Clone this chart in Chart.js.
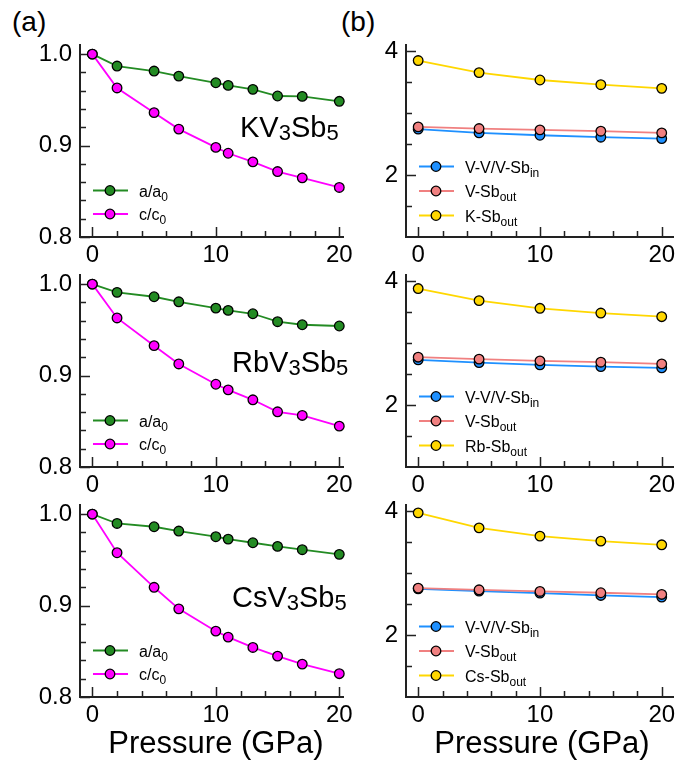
<!DOCTYPE html>
<html>
<head>
<meta charset="utf-8">
<script src="https://cdn.jsdelivr.net/npm/chart.js@4.4.0/dist/chart.umd.min.js"></script>
<style>
  body { margin: 0; background: #fff; }
  #fig { position: relative; width: 680px; height: 769px; background: #fff; font-family: "Liberation Sans", Arial, sans-serif; }
  #fig canvas { position: absolute; }
  .txt { position: absolute; line-height: 1; color: #000; white-space: nowrap; }
</style>
</head>
<body>
<div id="fig">
  <div class="txt" style="left:12px; top:8px; font-size:28px;">(a)</div>
  <div class="txt" style="left:341px; top:8px; font-size:28px;">(b)</div>

  <canvas id="pA0" width="355" height="240" style="left:0; top:35px;"></canvas>
  <canvas id="pA1" width="355" height="240" style="left:0; top:265px;"></canvas>
  <canvas id="pA2" width="355" height="240" style="left:0; top:495px;"></canvas>
  <canvas id="pB0" width="350" height="240" style="left:330px; top:35px;"></canvas>
  <canvas id="pB1" width="350" height="240" style="left:330px; top:265px;"></canvas>
  <canvas id="pB2" width="350" height="240" style="left:330px; top:495px;"></canvas>

  <div class="txt" style="left:66px; width:300px; text-align:center; top:727px; font-size:31px;">Pressure (GPa)</div>
  <div class="txt" style="left:392px; width:300px; text-align:center; top:727px; font-size:31px;">Pressure (GPa)</div>
</div>

<script>
// pressure grids (GPa)
const pressureA = [0, 2, 5, 7, 10, 11, 13, 15, 17, 20];
const pressureB = [0, 5, 10, 15, 20];

// normalised lattice constants
const kvsA = [1.0, 0.987, 0.9815, 0.976, 0.9687, 0.9658, 0.9615, 0.9542, 0.9538, 0.9484];
const kvsC = [1.0, 0.963, 0.936, 0.918, 0.898, 0.8916, 0.8822, 0.8716, 0.8647, 0.8542];
const rbvsA = [1.0, 0.991, 0.9862, 0.9807, 0.9738, 0.9713, 0.9676, 0.9589, 0.9556, 0.9542];
const rbvsC = [1.0, 0.963, 0.9327, 0.9127, 0.8905, 0.8844, 0.8735, 0.8604, 0.8564, 0.8447];
const csvsA = [1.0, 0.9898, 0.9862, 0.9815, 0.9753, 0.9727, 0.9687, 0.9647, 0.9611, 0.956];
const csvsC = [1.0, 0.9578, 0.92, 0.8964, 0.872, 0.8655, 0.8542, 0.8447, 0.836, 0.8255];

// bond lengths (Angstrom)
const kVV = [2.741, 2.681, 2.643, 2.611, 2.589];
const kVSb = [2.778, 2.751, 2.730, 2.708, 2.681];
const kKSb = [3.849, 3.654, 3.535, 3.459, 3.400];
const rbVV = [2.730, 2.686, 2.649, 2.622, 2.600];
const rbVSb = [2.773, 2.741, 2.714, 2.692, 2.665];
const rbRbSb = [3.881, 3.686, 3.562, 3.486, 3.427];
const csVV = [2.747, 2.710, 2.677, 2.640, 2.613];
const csVSb = [2.758, 2.731, 2.704, 2.683, 2.656];
const csCsSb = [3.973, 3.731, 3.597, 3.516, 3.457];

// tick labels
const xTickLabels = [0, 10, 20];
const yTickLabelsA = [0.8, 0.9, 1.0];
const yTickLabelsB = [2, 4];

// legend / name text pieces: [text, isSubscript]
const legendA = [[['a/a', 0], ['0', 1]], [['c/c', 0], ['0', 1]]];
const legendB = [
  [[['V-V/V-Sb', 0], ['in', 1]], [['V-Sb', 0], ['out', 1]], [['K-Sb', 0], ['out', 1]]],
  [[['V-V/V-Sb', 0], ['in', 1]], [['V-Sb', 0], ['out', 1]], [['Rb-Sb', 0], ['out', 1]]],
  [[['V-V/V-Sb', 0], ['in', 1]], [['V-Sb', 0], ['out', 1]], [['Cs-Sb', 0], ['out', 1]]]
];
const compoundNames = [
  [['KV', 0], ['3', 1], ['Sb', 0], ['5', 1]],
  [['RbV', 0], ['3', 1], ['Sb', 0], ['5', 1]],
  [['CsV', 0], ['3', 1], ['Sb', 0], ['5', 1]]
];

const FONT = '"Liberation Sans", Arial, sans-serif';
const AXIS = '#222';
const GREEN = '#238b23', MAGENTA = '#ff00ff';
const BLUE = '#1e90ff', PINK = '#f08080', GOLD = '#ffd700';

Chart.defaults.font.family = FONT;

function drawParts(ctx, parts, x, y, size, subSize, drop) {
  ctx.fillStyle = '#000';
  ctx.textAlign = 'left';
  ctx.textBaseline = 'alphabetic';
  parts.forEach(([t, sub]) => {
    ctx.font = (sub ? subSize : size) + 'px ' + FONT;
    ctx.fillText(t, x, sub ? y + drop : y);
    x += ctx.measureText(t).width;
  });
}

// ticks drawn on the inside of the frame
const inwardTicks = {
  id: 'inwardTicks',
  beforeDatasetsDraw(chart, args, opts) {
    const { ctx, chartArea: ca, scales: { x, y } } = chart;
    ctx.save();
    ctx.strokeStyle = AXIS;
    ctx.lineWidth = 1.5;
    ctx.beginPath();
    for (let v = 0; v <= 20; v += 2) {
      const px = Math.round(x.getPixelForValue(v)) + 0.5;
      const len = v % 10 === 0 ? 10 : 6;
      ctx.moveTo(px, ca.bottom);
      ctx.lineTo(px, ca.bottom - len);
    }
    opts.yMajor.forEach(v => {
      const py = Math.round(y.getPixelForValue(v)) + 0.5;
      ctx.moveTo(ca.left, py);
      ctx.lineTo(ca.left + 10, py);
    });
    opts.yMinor.forEach(v => {
      const py = Math.round(y.getPixelForValue(v)) + 0.5;
      ctx.moveTo(ca.left, py);
      ctx.lineTo(ca.left + 6, py);
    });
    ctx.stroke();
    ctx.restore();
  }
};

const panelLegend = {
  id: 'panelLegend',
  afterDatasetsDraw(chart, args, opts) {
    const { ctx, chartArea: ca } = chart;
    ctx.save();
    opts.items.forEach((parts, i) => {
      const ds = chart.data.datasets[i];
      const y = ca.top + opts.rows[i];
      ctx.strokeStyle = ds.borderColor;
      ctx.lineWidth = ds.borderWidth;
      ctx.beginPath();
      ctx.moveTo(ca.left + 13, y);
      ctx.lineTo(ca.left + 48, y);
      ctx.stroke();
      ctx.beginPath();
      ctx.arc(ca.left + 30, y, ds.pointRadius, 0, Math.PI * 2);
      ctx.fillStyle = ds.pointBackgroundColor;
      ctx.fill();
      ctx.lineWidth = ds.pointBorderWidth;
      ctx.strokeStyle = '#000';
      ctx.stroke();
      drawParts(ctx, parts, ca.left + 59, y + 6, 16, 12, 4);
    });
    if (opts.name) drawParts(ctx, opts.name, opts.nameX, ca.top + opts.nameY, 29, 22, 3);
    ctx.restore();
  }
};

function series(xs, ys, color, order) {
  return {
    data: xs.map((p, i) => ({ x: p, y: ys[i] })),
    borderColor: color,
    borderWidth: 1.8,
    pointBackgroundColor: color,
    pointBorderColor: '#000',
    pointBorderWidth: 1.3,
    pointRadius: 4.8,
    tension: 0,
    clip: false,
    order: order
  };
}

function makePanel(id, datasets, opt) {
  new Chart(document.getElementById(id), {
    type: 'line',
    data: { datasets: datasets },
    plugins: [inwardTicks, panelLegend],
    options: {
      responsive: false,
      animation: false,
      events: [],
      layout: { padding: { top: 10, right: opt.padRight, left: 0, bottom: 0 } },
      scales: {
        x: {
          type: 'linear',
          min: -1,
          max: opt.xMax,
          afterBuildTicks: s => { s.ticks = xTickLabels.map(v => ({ value: v })); },
          afterFit: s => { s.height = 38; s.paddingLeft = 0; s.paddingRight = 0; },
          grid: { display: false, drawTicks: false },
          border: { display: true, color: AXIS, width: 2 },
          ticks: { color: '#000', font: { size: 24 }, padding: 4, maxRotation: 0, autoSkip: false }
        },
        y: {
          type: 'linear',
          min: opt.yMin,
          max: opt.yMax,
          afterBuildTicks: s => { s.ticks = opt.yLabels.map(v => ({ value: v })); },
          afterFit: s => { s.width = opt.yWidth; s.paddingTop = 0; s.paddingBottom = 0; },
          grid: { display: false, drawTicks: false },
          border: { display: true, color: AXIS, width: 2 },
          ticks: { color: '#000', font: { size: 24 }, padding: 8, autoSkip: false, callback: opt.fmt }
        }
      },
      plugins: {
        legend: { display: false },
        tooltip: { enabled: false },
        inwardTicks: { yMajor: opt.yMajor, yMinor: opt.yMinor },
        panelLegend: { items: opt.legend, rows: opt.rows, name: opt.name, nameX: opt.nameX, nameY: opt.nameY }
      }
    }
  });
}

const minorA = [];
for (let i = 41; i < 50; i++) minorA.push(i * 0.02);

const latticeSets = [[kvsA, kvsC], [rbvsA, rbvsC], [csvsA, csvsC]];
const nameXs = [240, 232, 232];
const nameYs = [92, 97, 102];
latticeSets.forEach(([a, c], r) => {
  makePanel('pA' + r, [series(pressureA, a, GREEN, 1), series(pressureA, c, MAGENTA, 0)], {
    padRight: 12, xMax: 20.3, yMin: 0.8, yMax: 1.01, yWidth: 80,
    yLabels: yTickLabelsA, fmt: v => v.toFixed(1),
    yMajor: yTickLabelsA, yMinor: minorA,
    legend: legendA, rows: [145.5, 169],
    name: compoundNames[r], nameX: nameXs[r], nameY: nameYs[r]
  });
});

const bondSets = [[kVV, kVSb, kKSb], [rbVV, rbVSb, rbRbSb], [csVV, csVSb, csCsSb]];
bondSets.forEach(([vv, vsb, xsb], r) => {
  makePanel('pB' + r, [series(pressureB, vv, BLUE, 1), series(pressureB, vsb, PINK, 0), series(pressureB, xsb, GOLD, 0)], {
    padRight: 2, xMax: 21, yMin: 1.0, yMax: 4.1, yWidth: 76,
    yLabels: yTickLabelsB, fmt: v => String(v),
    yMajor: yTickLabelsB, yMinor: [1.5, 2.5, 3, 3.5],
    legend: legendB[r], rows: [121.5, 146, 170.5]
  });
});
</script>
</body>
</html>
